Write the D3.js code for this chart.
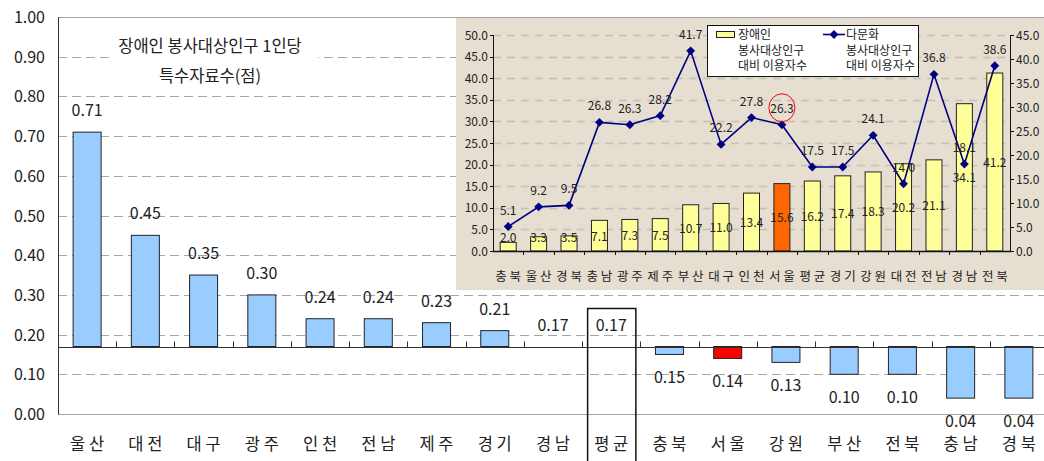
<!DOCTYPE html>
<html>
<head>
<meta charset="utf-8">
<script src="https://cdn.jsdelivr.net/npm/d3@7"></script>
<style>
  body { margin: 0; background: #fff; }
  svg { display: block; font-family: "Noto Sans CJK KR", "Noto Sans", sans-serif; }
</style>
</head>
<body>
<svg id="chart"></svg>
<script>
// main chart: special materials per 1 person of disabled service population
const regions = ['울산', '대전', '대구', '광주', '인천', '전남', '제주', '경기', '경남', '평균', '충북', '서울', '강원', '부산', '전북', '충남', '경북'];
const perCapita = [0.71, 0.45, 0.35, 0.30, 0.24, 0.24, 0.23, 0.21, 0.17, 0.17, 0.15, 0.14, 0.13, 0.10, 0.10, 0.04, 0.04];
const average = 0.17;
const mainTicks = [0, 0.1, 0.2, 0.3, 0.4, 0.5, 0.6, 0.7, 0.8, 0.9, 1.0];

// inset chart
const insetRegions = ['충북', '울산', '경북', '충남', '광주', '제주', '부산', '대구', '인천', '서울', '평균', '경기', '강원', '대전', '전남', '경남', '전북'];
const disabledUsers = [2.0, 3.3, 3.5, 7.1, 7.3, 7.5, 10.7, 11.0, 13.4, 15.6, 16.2, 17.4, 18.3, 20.2, 21.1, 34.1, 41.2];
const multiculturalUsers = [5.1, 9.2, 9.5, 26.8, 26.3, 28.2, 41.7, 22.2, 27.8, 26.3, 17.5, 17.5, 24.1, 14.0, 36.8, 18.1, 38.6];
const leftTicks = [0, 5, 10, 15, 20, 25, 30, 35, 40, 45, 50];
const rightTicks = [0, 5, 10, 15, 20, 25, 30, 35, 40, 45];

const width = 1044, height = 461;
const svg = d3.select('#chart').attr('width', width).attr('height', height);

// ---------- main chart ----------
const x = d3.scaleBand().domain(regions).range([58, 1048]).padding(0);
const y = d3.scaleLinear().domain([0, 1]).range([414, 17]);

// gridlines
svg.append('g')
   .selectAll('line')
   .data(mainTicks)
   .enter()
   .append('line')
   .attr('x1', 58).attr('x2', width)
   .attr('y1', d => Math.round(y(d)) + 0.5).attr('y2', d => Math.round(y(d)) + 0.5)
   .attr('stroke', '#a6a6a6')
   .attr('stroke-width', 1)
   .attr('stroke-dasharray', d => (d === 0 || d === 1) ? null : '9,5');

// y axis labels
svg.append('g')
   .selectAll('text')
   .data(mainTicks)
   .enter()
   .append('text')
   .attr('x', 45)
   .attr('y', d => y(d) + 6)
   .attr('text-anchor', 'end')
   .style('font-size', '16px')
   .attr('fill', '#222')
   .text(d => d.toFixed(2));

svg.append('line')
   .attr('x1', 58.5).attr('x2', 58.5)
   .attr('y1', y(1)).attr('y2', y(0) + 0.5)
   .attr('stroke', '#333');

// title with white box
svg.append('rect')
   .attr('x', 112).attr('y', 30).attr('width', 206).attr('height', 60)
   .attr('fill', '#fff');
svg.append('text')
   .attr('x', 210).attr('y', 52)
   .attr('text-anchor', 'middle')
   .style('font-size', '16.5px')
   .attr('fill', '#222')
   .text('장애인 봉사대상인구 1인당');
svg.append('text')
   .attr('x', 210).attr('y', 82)
   .attr('text-anchor', 'middle')
   .style('font-size', '16.5px')
   .attr('fill', '#222')
   .text('특수자료수(점)');

// bars from the average line
const barW = 28;
svg.append('g')
   .selectAll('rect')
   .data(regions.map((r, i) => ({ r, v: perCapita[i] })).filter(d => d.r !== '평균' && d.v !== average))
   .enter()
   .append('rect')
   .attr('x', d => x(d.r) + x.bandwidth() / 2 - barW / 2)
   .attr('y', d => Math.min(y(d.v), y(average)))
   .attr('width', barW)
   .attr('height', d => Math.abs(y(d.v) - y(average)))
   .attr('fill', d => d.r === '서울' ? '#ff0000' : '#99ccff')
   .attr('stroke', '#222')
   .attr('stroke-width', 1);

// value labels
svg.append('g')
   .selectAll('text')
   .data(regions.map((r, i) => ({ r, v: perCapita[i] })))
   .enter()
   .append('text')
   .attr('x', d => x(d.r) + x.bandwidth() / 2)
   .attr('y', d => d.v >= average ? y(d.v) - 16 : y(d.v) + 29)
   .attr('text-anchor', 'middle')
   .style('font-size', '16px')
   .attr('fill', '#222')
   .text(d => d.v.toFixed(2));

// category axis at the average
const axisY = Math.round(y(average)) + 0.5;
svg.append('line')
   .attr('x1', 58).attr('x2', width)
   .attr('y1', axisY).attr('y2', axisY)
   .attr('stroke', '#333');
svg.append('g')
   .selectAll('line')
   .data(regions.slice(1))
   .enter()
   .append('line')
   .attr('x1', d => Math.round(x(d)) + 0.5).attr('x2', d => Math.round(x(d)) + 0.5)
   .attr('y1', axisY - 6).attr('y2', axisY)
   .attr('stroke', '#333');

svg.append('g')
   .selectAll('text')
   .data(regions)
   .enter()
   .append('text')
   .attr('x', d => x(d) + x.bandwidth() / 2)
   .attr('y', 450)
   .attr('text-anchor', 'middle')
   .style('font-size', '16.5px')
   .attr('fill', '#222')
   .text(d => d.split('').join(' '));

// box around the average column
svg.append('rect')
   .attr('x', x('평균') + 5.5).attr('y', 308.5)
   .attr('width', x.bandwidth() - 10).attr('height', 170)
   .attr('fill', 'none')
   .attr('stroke', '#111')
   .attr('stroke-width', 1.5);

// ---------- inset chart ----------
const inset = svg.append('g');
inset.append('rect')
   .attr('x', 456).attr('y', 18).attr('width', width - 456).attr('height', 272)
   .attr('fill', '#e6dfd1');

const ix = d3.scaleBand().domain(insetRegions).range([493, 1010]).padding(0);
const iyL = d3.scaleLinear().domain([0, 50]).range([251, 35]);
const iyR = d3.scaleLinear().domain([0, 45]).range([251, 35]);

inset.append('g')
   .selectAll('line')
   .data(leftTicks.slice(1))
   .enter()
   .append('line')
   .attr('x1', 493).attr('x2', 1010)
   .attr('y1', d => Math.round(iyL(d)) + 0.5).attr('y2', d => Math.round(iyL(d)) + 0.5)
   .attr('stroke', '#c4c0b8')
   .attr('stroke-width', 1.5)
   .attr('stroke-dasharray', '8,6');

inset.append('g')
   .selectAll('text')
   .data(leftTicks)
   .enter()
   .append('text')
   .attr('x', 488)
   .attr('y', d => iyL(d) + 4.5)
   .attr('text-anchor', 'end')
   .style('font-size', '12px')
   .attr('fill', '#222')
   .text(d => d.toFixed(1));

inset.append('g')
   .selectAll('text')
   .data(rightTicks)
   .enter()
   .append('text')
   .attr('x', 1016)
   .attr('y', d => iyR(d) + 4.5)
   .attr('text-anchor', 'start')
   .style('font-size', '12px')
   .attr('fill', '#222')
   .text(d => d.toFixed(1));

// inset axes
inset.append('line')
   .attr('x1', 493.5).attr('x2', 493.5).attr('y1', 35).attr('y2', 251)
   .attr('stroke', '#111');
inset.append('line')
   .attr('x1', 1010.5).attr('x2', 1010.5).attr('y1', 35).attr('y2', 251)
   .attr('stroke', '#111');
inset.append('g')
   .selectAll('line')
   .data(leftTicks)
   .enter()
   .append('line')
   .attr('x1', 490).attr('x2', 493.5)
   .attr('y1', d => Math.round(iyL(d)) + 0.5).attr('y2', d => Math.round(iyL(d)) + 0.5)
   .attr('stroke', '#111');
inset.append('g')
   .selectAll('line')
   .data(rightTicks)
   .enter()
   .append('line')
   .attr('x1', 1010.5).attr('x2', 1014)
   .attr('y1', d => Math.round(iyR(d)) + 0.5).attr('y2', d => Math.round(iyR(d)) + 0.5)
   .attr('stroke', '#111');

const ibarW = 16;
inset.append('g')
   .selectAll('rect')
   .data(insetRegions.map((r, i) => ({ r, v: disabledUsers[i] })))
   .enter()
   .append('rect')
   .attr('x', d => ix(d.r) + ix.bandwidth() / 2 - ibarW / 2)
   .attr('y', d => iyL(d.v))
   .attr('width', ibarW)
   .attr('height', d => iyL(0) - iyL(d.v))
   .attr('fill', d => d.r === '서울' ? '#ff6600' : '#ffff99')
   .attr('stroke', '#222')
   .attr('stroke-width', 1);

inset.append('line')
   .attr('x1', 493).attr('x2', 1011).attr('y1', 251.5).attr('y2', 251.5)
   .attr('stroke', '#111').attr('stroke-width', 1.5);
inset.append('g')
   .selectAll('line')
   .data(insetRegions.slice(1))
   .enter()
   .append('line')
   .attr('x1', d => Math.round(ix(d)) + 0.5).attr('x2', d => Math.round(ix(d)) + 0.5)
   .attr('y1', 251).attr('y2', 255)
   .attr('stroke', '#111');

inset.append('g')
   .selectAll('text')
   .data(insetRegions.map((r, i) => ({ r, v: disabledUsers[i] })))
   .enter()
   .append('text')
   .attr('x', d => ix(d.r) + ix.bandwidth() / 2)
   .attr('y', d => Math.min((iyL(d.v) + iyL(0)) / 2, 237) + 5)
   .attr('text-anchor', 'middle')
   .style('font-size', '12px')
   .attr('fill', '#222')
   .text(d => d.v.toFixed(1));

// line series on right axis
const line = d3.line()
   .x((d, i) => ix(insetRegions[i]) + ix.bandwidth() / 2)
   .y(d => iyR(d));
inset.append('path')
   .datum(multiculturalUsers)
   .attr('d', line)
   .attr('fill', 'none')
   .attr('stroke', '#000080')
   .attr('stroke-width', 1.6);

inset.append('g')
   .selectAll('path')
   .data(multiculturalUsers)
   .enter()
   .append('path')
   .attr('d', d3.symbol().type(d3.symbolDiamond2).size(50))
   .attr('transform', (d, i) => `translate(${ix(insetRegions[i]) + ix.bandwidth() / 2},${iyR(d)})`)
   .attr('fill', '#000080');

inset.append('g')
   .selectAll('text')
   .data(multiculturalUsers)
   .enter()
   .append('text')
   .attr('x', (d, i) => ix(insetRegions[i]) + ix.bandwidth() / 2)
   .attr('y', d => iyR(d) - 12)
   .attr('text-anchor', 'middle')
   .style('font-size', '12px')
   .attr('fill', '#222')
   .text(d => d.toFixed(1));

// red circle around Seoul
inset.append('ellipse')
   .attr('cx', ix('서울') + ix.bandwidth() / 2).attr('cy', iyR(multiculturalUsers[9]) - 17)
   .attr('rx', 13).attr('ry', 14)
   .attr('fill', 'none')
   .attr('stroke', '#ff0000')
   .attr('stroke-width', 1);

// inset category labels
inset.append('g')
   .selectAll('text')
   .data(insetRegions)
   .enter()
   .append('text')
   .attr('x', d => ix(d) + ix.bandwidth() / 2)
   .attr('y', 281)
   .attr('text-anchor', 'middle')
   .style('font-size', '12.5px')
   .attr('fill', '#222')
   .text(d => d.split('').join(' '));

// legend
const legend = inset.append('g');
legend.append('rect')
   .attr('x', 707.5).attr('y', 25.5).attr('width', 211).attr('height', 51)
   .attr('fill', '#fff').attr('stroke', '#111');
legend.append('rect')
   .attr('x', 716.5).attr('y', 31.5).attr('width', 18).attr('height', 6)
   .attr('fill', '#ffff99').attr('stroke', '#222');
legend.append('line')
   .attr('x1', 823).attr('x2', 845).attr('y1', 34.5).attr('y2', 34.5)
   .attr('stroke', '#000080').attr('stroke-width', 1.6);
legend.append('path')
   .attr('d', d3.symbol().type(d3.symbolDiamond2).size(50))
   .attr('transform', 'translate(834,34.5)')
   .attr('fill', '#000080');

const legendText = [['장애인', '봉사대상인구', '대비 이용자수'], ['다문화', '봉사대상인구', '대비 이용자수']];
[738, 846].forEach((lx, k) => {
  legend.append('g')
     .selectAll('text')
     .data(legendText[k])
     .enter()
     .append('text')
     .attr('x', lx)
     .attr('y', (d, i) => 39 + i * 15.5)
     .style('font-size', '12px')
     .attr('fill', '#222')
     .text(d => d);
});
</script>
</body>
</html>
